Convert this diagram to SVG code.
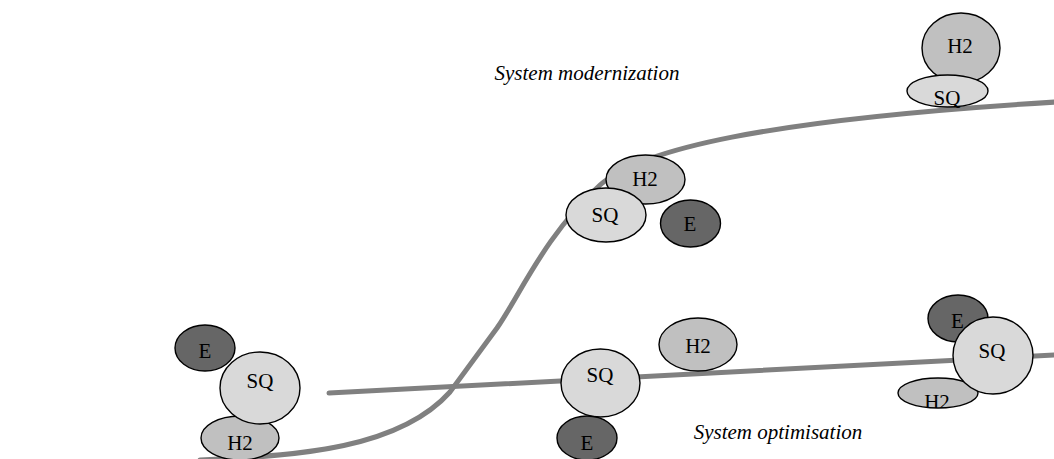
<svg xmlns="http://www.w3.org/2000/svg" width="1054" height="459" viewBox="0 0 1054 459">
  <style>
    .track { fill: none; stroke: #808080; stroke-width: 5; stroke-linecap: round; }
    .shape { stroke: #000; stroke-width: 1.4; }
    .sq { fill: #d9d9d9; }
    .h2 { fill: #c0c0c0; }
    .e { fill: #666666; }
    .lbl { font-family: "Liberation Serif", "Times New Roman", serif; font-size: 21px; fill: #000; text-anchor: middle; }
    .caption { font-family: "Liberation Serif", "Times New Roman", serif; font-size: 21px; font-style: italic; fill: #000; text-anchor: middle; }
  </style>
  <defs>
    <clipPath id="clipRightH2">
      <rect x="890" y="370" width="110" height="38"/>
    </clipPath>
  </defs>
  <rect width="1054" height="459" fill="#fff"/>

  <!-- trajectories -->
  <g id="connectors">
    <path class="track" d="M 200 460 C 300 456, 400 448, 450 392 L 497 328 C 520 295, 545 235, 600 185 C 640 150, 760 120, 1056 102"/>
    <path class="track" d="M 329 393 L 1056 355"/>
  </g>

  <!-- captions -->
  <text class="caption" x="587" y="80">System modernization</text>
  <text class="caption" x="778" y="439">System optimisation</text>

  <!-- bottom-left cluster -->
  <g id="bl-e">
    <ellipse class="shape e" cx="205" cy="348" rx="30" ry="23"/>
    <text class="lbl" x="205" y="358">E</text>
  </g>
  <g id="bl-h2">
    <ellipse class="shape h2" cx="240" cy="438" rx="39" ry="22"/>
    <text class="lbl" x="240" y="450">H2</text>
  </g>
  <g id="bl-sq">
    <ellipse class="shape sq" cx="260" cy="388" rx="40" ry="36"/>
    <text class="lbl" x="260" y="388">SQ</text>
  </g>

  <!-- upper-middle cluster -->
  <g id="um-h2">
    <ellipse class="shape h2" cx="645.5" cy="179.5" rx="39.5" ry="24.5"/>
    <text class="lbl" x="645" y="186">H2</text>
  </g>
  <g id="um-sq">
    <ellipse class="shape sq" cx="606" cy="215" rx="40" ry="27"/>
    <text class="lbl" x="605" y="222">SQ</text>
  </g>
  <g id="um-e">
    <ellipse class="shape e" cx="690.5" cy="223.5" rx="30" ry="23.5"/>
    <text class="lbl" x="690" y="231">E</text>
  </g>

  <!-- top-right cluster -->
  <g id="tr-h2">
    <ellipse class="shape h2" cx="961" cy="48" rx="39" ry="35"/>
    <text class="lbl" x="960" y="53">H2</text>
  </g>
  <g id="tr-sq">
    <ellipse class="shape sq" cx="947.5" cy="91" rx="40.5" ry="16"/>
    <text class="lbl" x="947" y="105">SQ</text>
  </g>

  <!-- lower-middle cluster -->
  <g id="lm-sq">
    <ellipse class="shape sq" cx="600.5" cy="383" rx="39.5" ry="34"/>
    <text class="lbl" x="600" y="382">SQ</text>
  </g>
  <g id="lm-h2">
    <ellipse class="shape h2" cx="698" cy="344.5" rx="39" ry="26.5"/>
    <text class="lbl" x="698" y="353">H2</text>
  </g>
  <g id="lm-e">
    <ellipse class="shape e" cx="587" cy="438" rx="30" ry="22"/>
    <text class="lbl" x="587" y="450">E</text>
  </g>

  <!-- lower-right cluster -->
  <g id="lr-e">
    <ellipse class="shape e" cx="958" cy="318.5" rx="30" ry="23.5"/>
    <text class="lbl" x="957.5" y="328">E</text>
  </g>
  <g id="lr-h2">
    <ellipse class="shape h2" cx="938" cy="393" rx="40" ry="15"/>
    <text class="lbl" x="937" y="409" clip-path="url(#clipRightH2)">H2</text>
  </g>
  <g id="lr-sq">
    <ellipse class="shape sq" cx="993" cy="355.5" rx="40" ry="38.5"/>
    <text class="lbl" x="992" y="358">SQ</text>
  </g>
</svg>
